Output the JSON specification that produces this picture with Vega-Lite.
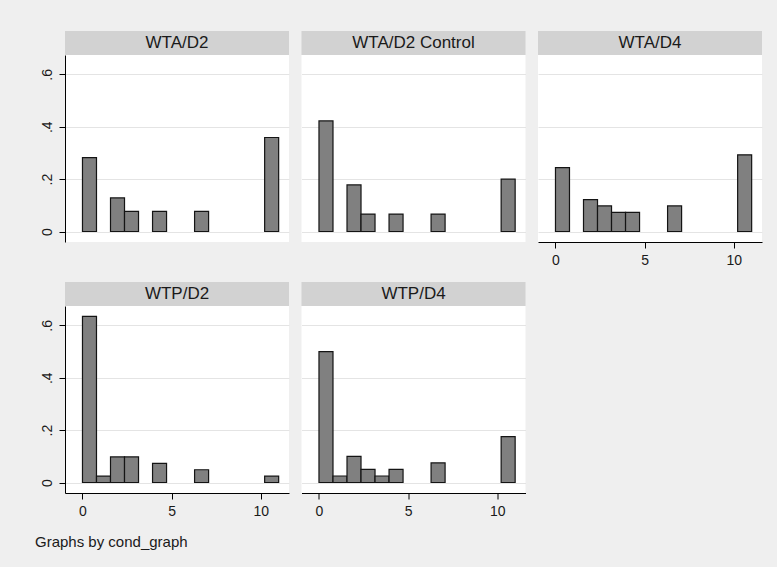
{
  "$schema": "https://vega.github.io/schema/vega-lite/v6.json",
  "padding": {"left": 34, "top": 31, "right": 15, "bottom": 20},
  "datasets": {
    "panels": [
      {"cond": "WTA/D2"},
      {"cond": "WTA/D2 Control"},
      {"cond": "WTA/D4"},
      {"cond": "WTP/D2"},
      {"cond": "WTP/D4"}
    ],
    "hist": [
      {"cond": "WTA/D2", "bin_lo": 0, "bin_hi": 0.7857, "fraction": 0.2821},
      {"cond": "WTA/D2", "bin_lo": 1.5714, "bin_hi": 2.3571, "fraction": 0.1282},
      {"cond": "WTA/D2", "bin_lo": 2.3571, "bin_hi": 3.1429, "fraction": 0.0769},
      {"cond": "WTA/D2", "bin_lo": 3.9286, "bin_hi": 4.7143, "fraction": 0.0769},
      {"cond": "WTA/D2", "bin_lo": 6.2857, "bin_hi": 7.0714, "fraction": 0.0769},
      {"cond": "WTA/D2", "bin_lo": 10.2143, "bin_hi": 11, "fraction": 0.359},

      {"cond": "WTA/D2 Control", "bin_lo": 0, "bin_hi": 0.7857, "fraction": 0.4222},
      {"cond": "WTA/D2 Control", "bin_lo": 1.5714, "bin_hi": 2.3571, "fraction": 0.1778},
      {"cond": "WTA/D2 Control", "bin_lo": 2.3571, "bin_hi": 3.1429, "fraction": 0.0667},
      {"cond": "WTA/D2 Control", "bin_lo": 3.9286, "bin_hi": 4.7143, "fraction": 0.0667},
      {"cond": "WTA/D2 Control", "bin_lo": 6.2857, "bin_hi": 7.0714, "fraction": 0.0667},
      {"cond": "WTA/D2 Control", "bin_lo": 10.2143, "bin_hi": 11, "fraction": 0.2},

      {"cond": "WTA/D4", "bin_lo": 0, "bin_hi": 0.7857, "fraction": 0.2439},
      {"cond": "WTA/D4", "bin_lo": 1.5714, "bin_hi": 2.3571, "fraction": 0.122},
      {"cond": "WTA/D4", "bin_lo": 2.3571, "bin_hi": 3.1429, "fraction": 0.0976},
      {"cond": "WTA/D4", "bin_lo": 3.1429, "bin_hi": 3.9286, "fraction": 0.0732},
      {"cond": "WTA/D4", "bin_lo": 3.9286, "bin_hi": 4.7143, "fraction": 0.0732},
      {"cond": "WTA/D4", "bin_lo": 6.2857, "bin_hi": 7.0714, "fraction": 0.0976},
      {"cond": "WTA/D4", "bin_lo": 10.2143, "bin_hi": 11, "fraction": 0.2927},

      {"cond": "WTP/D2", "bin_lo": 0, "bin_hi": 0.7857, "fraction": 0.6341},
      {"cond": "WTP/D2", "bin_lo": 0.7857, "bin_hi": 1.5714, "fraction": 0.0244},
      {"cond": "WTP/D2", "bin_lo": 1.5714, "bin_hi": 2.3571, "fraction": 0.0976},
      {"cond": "WTP/D2", "bin_lo": 2.3571, "bin_hi": 3.1429, "fraction": 0.0976},
      {"cond": "WTP/D2", "bin_lo": 3.9286, "bin_hi": 4.7143, "fraction": 0.0732},
      {"cond": "WTP/D2", "bin_lo": 6.2857, "bin_hi": 7.0714, "fraction": 0.0488},
      {"cond": "WTP/D2", "bin_lo": 10.2143, "bin_hi": 11, "fraction": 0.0244},

      {"cond": "WTP/D4", "bin_lo": 0, "bin_hi": 0.7857, "fraction": 0.5},
      {"cond": "WTP/D4", "bin_lo": 0.7857, "bin_hi": 1.5714, "fraction": 0.025},
      {"cond": "WTP/D4", "bin_lo": 1.5714, "bin_hi": 2.3571, "fraction": 0.1},
      {"cond": "WTP/D4", "bin_lo": 2.3571, "bin_hi": 3.1429, "fraction": 0.05},
      {"cond": "WTP/D4", "bin_lo": 3.1429, "bin_hi": 3.9286, "fraction": 0.025},
      {"cond": "WTP/D4", "bin_lo": 3.9286, "bin_hi": 4.7143, "fraction": 0.05},
      {"cond": "WTP/D4", "bin_lo": 6.2857, "bin_hi": 7.0714, "fraction": 0.075},
      {"cond": "WTP/D4", "bin_lo": 10.2143, "bin_hi": 11, "fraction": 0.175}
    ]
  },
  "title": {
    "text": "Graphs by cond_graph",
    "orient": "bottom",
    "anchor": "start",
    "fontSize": 15,
    "fontWeight": "normal",
    "color": "#1a1a1a",
    "offset": 17,
    "dx": -5
  },
  "spacing": 15,
  "vconcat": [
    {
      "spacing": 12.5,
      "hconcat": [
        {
          "spacing": 0,
          "vconcat": [
            {
              "width": 224, "height": 24,
              "view": {"fill": "#d2d2d2", "stroke": null},
              "data": {"name": "panels"},
              "transform": [{"filter": "datum.cond === 'WTA/D2'"}],
              "mark": {"type": "text", "fontSize": 17, "color": "#1a1a1a", "baseline": "middle"},
              "encoding": {"text": {"field": "cond"}}
            },
            {
              "width": 224, "height": 187,
              "data": {"name": "hist"},
              "transform": [{"filter": "datum.cond === 'WTA/D2'"}],
              "mark": {"type": "bar", "fill": "#808080", "stroke": "#141414", "strokeWidth": 1.2},
              "encoding": {
                "x": {"field": "bin_lo", "type": "quantitative", "scale": {"domain": [-0.98, 11.58], "nice": false, "zero": false}, "axis": null},
                "x2": {"field": "bin_hi"},
                "y": {"field": "fraction", "type": "quantitative", "scale": {"domain": [-0.04, 0.674], "nice": false, "zero": false},
                      "axis": {"values": [0, 0.2, 0.4, 0.6], "title": null, "grid": true, "labelAngle": -90,
                               "labelExpr": "datum.value == 0 ? '0' : replace(format(datum.value, '.1f'), '0.', '.')"}},
                "y2": {"datum": 0}
              }
            }
          ]
        },
        {
          "spacing": 0,
          "vconcat": [
            {
              "width": 224, "height": 24,
              "view": {"fill": "#d2d2d2", "stroke": null},
              "data": {"name": "panels"},
              "transform": [{"filter": "datum.cond === 'WTA/D2 Control'"}],
              "mark": {"type": "text", "fontSize": 17, "color": "#1a1a1a", "baseline": "middle"},
              "encoding": {"text": {"field": "cond"}}
            },
            {
              "width": 224, "height": 187,
              "data": {"name": "hist"},
              "transform": [{"filter": "datum.cond === 'WTA/D2 Control'"}],
              "mark": {"type": "bar", "fill": "#808080", "stroke": "#141414", "strokeWidth": 1.2},
              "encoding": {
                "x": {"field": "bin_lo", "type": "quantitative", "scale": {"domain": [-0.98, 11.58], "nice": false, "zero": false}, "axis": null},
                "x2": {"field": "bin_hi"},
                "y": {"field": "fraction", "type": "quantitative", "scale": {"domain": [-0.04, 0.674], "nice": false, "zero": false},
                      "axis": {"values": [0, 0.2, 0.4, 0.6], "title": null, "grid": true, "labels": false, "ticks": false, "domain": false}},
                "y2": {"datum": 0}
              }
            }
          ]
        },
        {
          "spacing": 0,
          "vconcat": [
            {
              "width": 224, "height": 24,
              "view": {"fill": "#d2d2d2", "stroke": null},
              "data": {"name": "panels"},
              "transform": [{"filter": "datum.cond === 'WTA/D4'"}],
              "mark": {"type": "text", "fontSize": 17, "color": "#1a1a1a", "baseline": "middle"},
              "encoding": {"text": {"field": "cond"}}
            },
            {
              "width": 224, "height": 187,
              "data": {"name": "hist"},
              "transform": [{"filter": "datum.cond === 'WTA/D4'"}],
              "mark": {"type": "bar", "fill": "#808080", "stroke": "#141414", "strokeWidth": 1.2},
              "encoding": {
                "x": {"field": "bin_lo", "type": "quantitative", "scale": {"domain": [-0.98, 11.58], "nice": false, "zero": false},
                      "axis": {"values": [0, 5, 10], "title": null, "grid": false, "labelAngle": 0}},
                "x2": {"field": "bin_hi"},
                "y": {"field": "fraction", "type": "quantitative", "scale": {"domain": [-0.04, 0.674], "nice": false, "zero": false},
                      "axis": {"values": [0, 0.2, 0.4, 0.6], "title": null, "grid": true, "labels": false, "ticks": false, "domain": false}},
                "y2": {"datum": 0}
              }
            }
          ]
        }
      ]
    },
    {
      "spacing": 12.5,
      "hconcat": [
        {
          "spacing": 0,
          "vconcat": [
            {
              "width": 224, "height": 24,
              "view": {"fill": "#d2d2d2", "stroke": null},
              "data": {"name": "panels"},
              "transform": [{"filter": "datum.cond === 'WTP/D2'"}],
              "mark": {"type": "text", "fontSize": 17, "color": "#1a1a1a", "baseline": "middle"},
              "encoding": {"text": {"field": "cond"}}
            },
            {
              "width": 224, "height": 187,
              "data": {"name": "hist"},
              "transform": [{"filter": "datum.cond === 'WTP/D2'"}],
              "mark": {"type": "bar", "fill": "#808080", "stroke": "#141414", "strokeWidth": 1.2},
              "encoding": {
                "x": {"field": "bin_lo", "type": "quantitative", "scale": {"domain": [-0.98, 11.58], "nice": false, "zero": false},
                      "axis": {"values": [0, 5, 10], "title": null, "grid": false, "labelAngle": 0}},
                "x2": {"field": "bin_hi"},
                "y": {"field": "fraction", "type": "quantitative", "scale": {"domain": [-0.04, 0.674], "nice": false, "zero": false},
                      "axis": {"values": [0, 0.2, 0.4, 0.6], "title": null, "grid": true, "labelAngle": -90,
                               "labelExpr": "datum.value == 0 ? '0' : replace(format(datum.value, '.1f'), '0.', '.')"}},
                "y2": {"datum": 0}
              }
            }
          ]
        },
        {
          "spacing": 0,
          "vconcat": [
            {
              "width": 224, "height": 24,
              "view": {"fill": "#d2d2d2", "stroke": null},
              "data": {"name": "panels"},
              "transform": [{"filter": "datum.cond === 'WTP/D4'"}],
              "mark": {"type": "text", "fontSize": 17, "color": "#1a1a1a", "baseline": "middle"},
              "encoding": {"text": {"field": "cond"}}
            },
            {
              "width": 224, "height": 187,
              "data": {"name": "hist"},
              "transform": [{"filter": "datum.cond === 'WTP/D4'"}],
              "mark": {"type": "bar", "fill": "#808080", "stroke": "#141414", "strokeWidth": 1.2},
              "encoding": {
                "x": {"field": "bin_lo", "type": "quantitative", "scale": {"domain": [-0.98, 11.58], "nice": false, "zero": false},
                      "axis": {"values": [0, 5, 10], "title": null, "grid": false, "labelAngle": 0}},
                "x2": {"field": "bin_hi"},
                "y": {"field": "fraction", "type": "quantitative", "scale": {"domain": [-0.04, 0.674], "nice": false, "zero": false},
                      "axis": {"values": [0, 0.2, 0.4, 0.6], "title": null, "grid": true, "labels": false, "ticks": false, "domain": false}},
                "y2": {"datum": 0}
              }
            }
          ]
        }
      ]
    }
  ],
  "config": {
    "font": "Liberation Sans",
    "background": "#efefef",
    "view": {"fill": "white", "stroke": null},
    "axis": {
      "domainColor": "#000000",
      "domainWidth": 1,
      "tickColor": "#000000",
      "tickSize": 6,
      "labelColor": "#1a1a1a",
      "labelFontSize": 14,
      "labelPadding": 5,
      "gridColor": "#e4e4e4",
      "gridWidth": 1
    }
  }
}
